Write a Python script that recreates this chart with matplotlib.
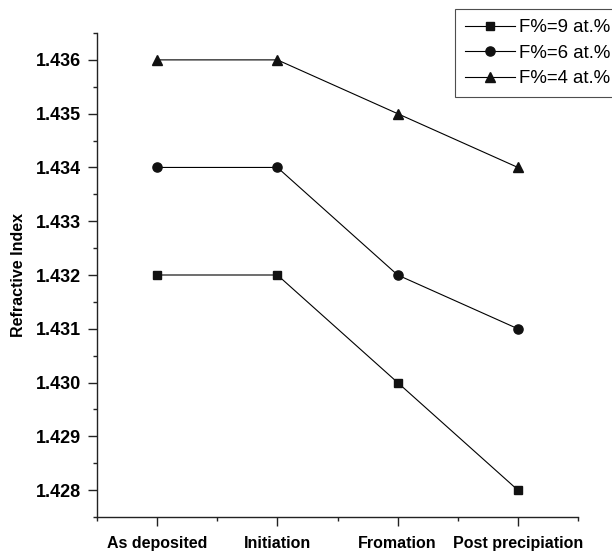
import matplotlib
matplotlib.use('Agg')
import matplotlib.pyplot as plt
from matplotlib.ticker import MultipleLocator

# data
stages = ['As deposited', 'Initiation', 'Fromation', 'Post precipiation']
f9 = [1.432, 1.432, 1.430, 1.428]
f6 = [1.434, 1.434, 1.432, 1.431]
f4 = [1.436, 1.436, 1.435, 1.434]
labels = ['F%=9 at.%', 'F%=6 at.%', 'F%=4 at.%']

plt.rcParams['font.family'] = ['Liberation Sans', 'DejaVu Sans']

fig = plt.figure(figsize=(6.12, 5.51), dpi=100)
ax = fig.add_axes([97/612, 1-517/551, (578-97)/612, (517-33)/551])

x = list(range(1, len(stages)+1))
ax.plot(x, f9, '-s', color='k', lw=0.8, ms=5.8, mfc='#111', mec='#111', label=labels[0])
ax.plot(x, f6, '-o', color='k', lw=0.8, ms=6.6, mfc='#111', mec='#111', label=labels[1])
ax.plot(x, f4, '-^', color='k', lw=0.8, ms=7.6, mfc='#111', mec='#111', label=labels[2])

ax.set_xlim(0.5, 4.5)
ax.set_ylim(1.4275, 1.4365)
ax.set_xticks(x)
ax.set_xticklabels(stages, fontweight='bold', fontsize=11.5)
ax.xaxis.set_minor_locator(MultipleLocator(0.5))
ax.yaxis.set_major_locator(MultipleLocator(0.001))
ax.yaxis.set_minor_locator(MultipleLocator(0.0005))
ax.yaxis.set_major_formatter(plt.FormatStrFormatter('%.3f'))
for t in ax.get_yticklabels():
    t.set_fontweight('bold')
    t.set_fontsize(13)

ax.spines['top'].set_visible(False)
ax.spines['right'].set_visible(False)
for s in ['left', 'bottom']:
    ax.spines[s].set_linewidth(1.0)
    ax.spines[s].set_color('#222')
ax.tick_params(which='major', length=6.5, width=1, direction='out', color='#222', pad=5)
ax.tick_params(which='minor', length=3, width=1, direction='out', color='#222')
ax.tick_params(axis='x', which='major', pad=7)

ax.set_ylabel('Refractive Index', fontweight='bold', fontsize=11.5, labelpad=7)

leg = fig.legend(loc='upper left', bbox_to_anchor=(455/612, 1-9/551), frameon=True,
                 fancybox=False, edgecolor='#222', fontsize=13.4, handlelength=2.7,
                 handletextpad=0.2, borderpad=0.55, labelspacing=0.45, borderaxespad=0)
leg.get_frame().set_linewidth(0.8)

fig.savefig('out.png', dpi=100)
